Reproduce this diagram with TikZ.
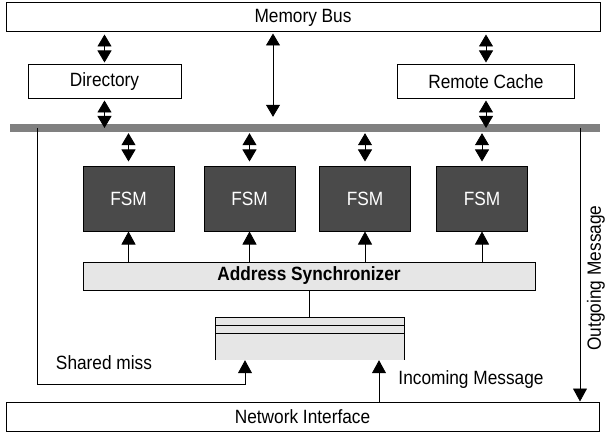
\documentclass[tikz,border=0pt]{standalone}
\usepackage{fontspec}
\setmainfont[FakeStretch=0.9]{Liberation Sans}
\usepackage{xcolor}
\usetikzlibrary{arrows.meta}
\definecolor{fsmgray}{RGB}{74,74,74}
\definecolor{busgray}{RGB}{128,128,128}
\definecolor{syncgray}{RGB}{230,230,230}
\newcommand{\figfont}{\fontsize{19.2}{22}\selectfont}

\begin{document}
\begin{tikzpicture}[x=1pt, y=-1pt, font=\figfont,
  box/.style={draw, line width=1pt, inner sep=0pt},
  fsmbox/.style={box, fill=fsmgray, text=white, minimum width=91pt, minimum height=65pt},
  sig/.style={-{Triangle[width=14pt,length=13pt]}, line width=0.8pt},
  dbl/.style={{Triangle[width=14pt,length=12pt]}-{Triangle[width=14pt,length=12pt]}, line width=0.8pt}]
\useasboundingbox (0,0) rectangle (605,433);

% Memory side
\node[box, minimum width=594pt, minimum height=29pt] (mem) at (303,17.5) {Memory Bus};
\node[box, minimum width=153pt, minimum height=34pt] (dir) at (104.5,82) {Directory};
\node[box, minimum width=177pt, minimum height=34pt] (rc) at (486,82) {Remote Cache};
\node[fill=busgray, minimum width=590pt, minimum height=8pt, inner sep=0pt] (bus) at (305,128) {};
\coordinate (midx) at (273,0);

\draw[dbl, shorten <=2pt, shorten >=2pt] (mem.south -| dir) -- (dir.north);
\draw[dbl, shorten <=1pt] (dir.south) -- (bus.center -| dir);
\draw[dbl, shorten <=2pt, shorten >=2pt] (mem.south -| rc) -- (rc.north);
\draw[dbl, shorten <=1pt] (rc.south) -- (bus.center -| rc);
\draw[dbl, shorten <=1pt, shorten >=7pt] (mem.south -| midx) -- (bus.north -| midx);

% Protocol engines
\foreach \i/\x in {1/128.5, 2/249.5, 3/365, 4/482} {
  \node[fsmbox] (fsm\i) at (\x,198.5) {FSM};
  \draw[dbl, shorten <=1pt, shorten >=4pt] (bus.south -| fsm\i) -- (fsm\i.north);
}

\node[box, fill=syncgray, font=\figfont\bfseries, minimum width=452pt, minimum height=28pt] (sync) at (309,276) {Address Synchronizer};
\foreach \i in {1,...,4}
  \draw[sig] (sync.north -| fsm\i) -- (fsm\i.south);

% Buffer
\node[fill=syncgray, minimum width=188pt, minimum height=42pt, inner sep=0pt] (buf) at (310,339) {};
\draw[line width=1pt] (buf.south west) -- (buf.north west) -- (buf.north east) -- (buf.south east);
\foreach \d in {8,16}
  \draw[line width=1pt] ([yshift=-\d pt]buf.north west) -- ([yshift=-\d pt]buf.north east);
\draw[line width=0.8pt] (sync.south) -- (sync.south |- buf.north);

% Network side
\node[box, minimum width=593pt, minimum height=29pt] (ni) at (302.5,416.5) {Network Interface};
\coordinate (smx) at (37,384);
\coordinate (smy) at (245,384);
\draw[sig] (bus.center -| smx) -- (smx) -- (smy) -- (buf.south -| smy);
\node (smlbl) at (104,363) {Shared miss};

\coordinate (inx) at (379,0);
\draw[sig] (ni.north -| inx) -- (buf.south -| inx);
\node (inlbl) at (471,380) {Incoming Message};

\coordinate (outx) at (580,0);
\draw[sig] (bus.center -| outx) -- (ni.north -| outx);
\node[rotate=90, inner sep=0pt] (outlbl) at (596,278) {Outgoing Message};
\end{tikzpicture}
\end{document}
